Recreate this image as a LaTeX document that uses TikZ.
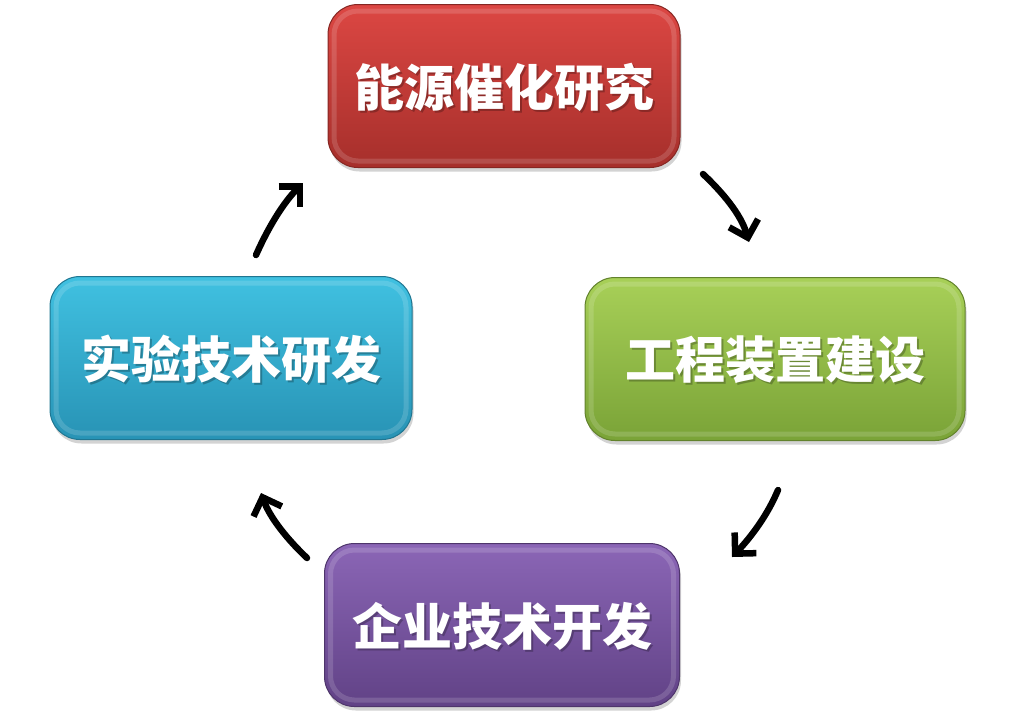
\documentclass[tikz,border=0pt]{standalone}
\usepackage{fontspec}
\newfontfamily\cjk{Noto Sans CJK SC}
\usetikzlibrary{arrows.meta,shadows}
\definecolor{redT}{HTML}{DC4743}
\definecolor{redB}{HTML}{A62F2B}
\definecolor{grnT}{HTML}{A8D058}
\definecolor{grnB}{HTML}{7AA337}
\definecolor{cyaT}{HTML}{40C1E1}
\definecolor{cyaB}{HTML}{2893B5}
\definecolor{purT}{HTML}{8B66B6}
\definecolor{purB}{HTML}{614286}
\tikzset{
  boxbase/.style={rounded corners=30pt, minimum width=#1, minimum height=163pt,
    inner sep=0pt, line width=1pt,
    drop shadow={opacity=0.35, shadow xshift=1.5pt, shadow yshift=-4pt}},
  rim/.style={rounded corners=24pt, draw=white, draw opacity=0.15, line width=5pt, inner sep=0pt,
    minimum height=150pt, minimum width=#1},
  lbl/.style={text=white, font=\cjk\bfseries\fontsize{50}{50}\selectfont, inner sep=0pt},
  lblsh/.style={text=black, text opacity=0.25, font=\cjk\bfseries\fontsize{50}{50}\selectfont, inner sep=0pt},
  cyc/.style={line width=6.5pt, line cap=round, line join=round,
    -{Straight Barb[length=15pt,width=30pt,line width=6.5pt]}}
}
\begin{document}
\begin{tikzpicture}[x=1pt,y=-1pt]
\useasboundingbox (0,0) rectangle (1016,721);
% boxes
\node[boxbase=352pt, top color=redT, bottom color=redB, draw=redB!80!black] (r) at (504,86) {};
\node[rim=340pt] (rr) at (504,86) {};
\node[lblsh] (rts) at (506,89) {能源催化研究};
\node[lbl] (rt) at (504,87) {能源催化研究};

\node[boxbase=380pt, top color=grnT, bottom color=grnB, draw=grnB!80!black] (g) at (775,359) {};
\node[rim=368pt] (gr) at (775,359) {};
\node[lblsh] (gts) at (777,362) {工程装置建设};
\node[lbl] (gt) at (775,360) {工程装置建设};

\node[boxbase=362pt, top color=cyaT, bottom color=cyaB, draw=cyaB!80!black] (c) at (231,358) {};
\node[rim=350pt] (cr) at (231,358) {};
\node[lblsh] (cts) at (233,361) {实验技术研发};
\node[lbl] (ct) at (231,359) {实验技术研发};

\node[boxbase=355pt, top color=purT, bottom color=purB, draw=purB!80!black] (p) at (502,625) {};
\node[rim=343pt] (pr) at (502,625) {};
\node[lblsh] (pts) at (504,628) {企业技术开发};
\node[lbl] (pt) at (502,626) {企业技术开发};

% arrow end points
\coordinate (a1s) at (703,174);
\coordinate (a1e) at (749,242);
\coordinate (a2s) at (778,490);
\coordinate (a2e) at (732,557);
\coordinate (a3s) at (307,558);
\coordinate (a3e) at (261,493);
\coordinate (a4s) at (256,255);
\coordinate (a4e) at (303,183);

\draw[cyc] (a1s) .. controls (722,192) and (741,214) .. (a1e);
\draw[cyc] (a2s) .. controls (768,514) and (752,536) .. (a2e);
\draw[cyc] (a3s) .. controls (288,540) and (270,518) .. (a3e);
\draw[cyc] (a4s) .. controls (268,228) and (283,203) .. (a4e);
\end{tikzpicture}
\end{document}
